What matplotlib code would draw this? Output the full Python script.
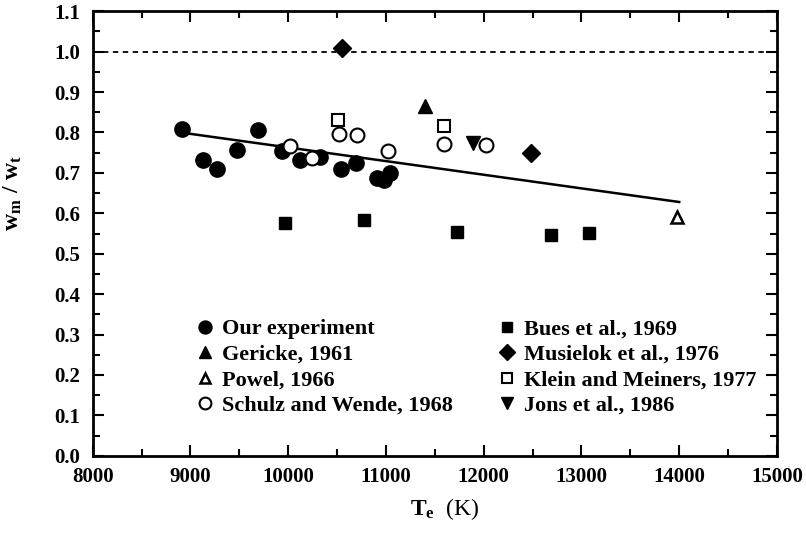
# w_m / w_t versus T_e
import matplotlib.pyplot as plt
from matplotlib.ticker import MultipleLocator

plt.rcParams['font.family'] = ['Liberation Serif', 'DejaVu Serif']
plt.rcParams['font.weight'] = 'bold'
plt.rcParams['mathtext.fontset'] = 'custom'
plt.rcParams['mathtext.rm'] = 'Liberation Serif'
plt.rcParams['mathtext.it'] = 'Liberation Serif'
plt.rcParams['mathtext.bf'] = 'Liberation Serif:bold'

# データ
our_T = [8910, 9130, 9270, 9475, 9695, 9935, 10120, 10330, 10540, 10695, 10910, 10975, 11045]
our_r = [0.808, 0.733, 0.710, 0.756, 0.806, 0.755, 0.732, 0.740, 0.709, 0.725, 0.687, 0.683, 0.699]

gericke_T = [11395]
gericke_r = [0.865]

powel_T = [13980]
powel_r = [0.592]

schulz_T = [10020, 10245, 10515, 10705, 11025, 11595, 12025]
schulz_r = [0.767, 0.736, 0.797, 0.795, 0.755, 0.771, 0.769]

bues_T = [9970, 10780, 11730, 12690, 13080]
bues_r = [0.577, 0.583, 0.554, 0.546, 0.551]

musielok_T = [10550, 12485]
musielok_r = [1.008, 0.750]

klein_T = [10505, 11595]
klein_r = [0.831, 0.816]

jons_T = [11890]
jons_r = [0.773]

fit_T = [8900, 14000]
fit_r = [0.800, 0.628]

fig = plt.figure(figsize=(8.06, 5.35), dpi=100)
ax = fig.add_axes([0.115, 0.148, 0.849, 0.831])

k = 'black'
ax.axhline(1.0, color=k, lw=1.3, ls=(0, (3, 2.5)))
ax.plot(fit_T, fit_r, color=k, lw=1.8)

h1, = ax.plot(our_T, our_r, 'o', color=k, ms=11, ls='none', label='Our experiment')
h5, = ax.plot(bues_T, bues_r, 's', color=k, ms=8.5, ls='none', label='Bues et al., 1969')
h2, = ax.plot(gericke_T, gericke_r, '^', color=k, ms=9.5, ls='none', label='Gericke, 1961')
h6, = ax.plot(musielok_T, musielok_r, 'D', color=k, ms=9, ls='none', label='Musielok et al., 1976')
h3, = ax.plot(powel_T, powel_r, '^', mfc='white', mec=k, mew=1.8, ms=8.5, ls='none', label='Powel, 1966')
h7, = ax.plot(klein_T, klein_r, 's', mfc='white', mec=k, mew=1.5, ms=8, ls='none', label='Klein and Meiners, 1977')
h4, = ax.plot(schulz_T, schulz_r, 'o', mfc='white', mec=k, mew=1.5, ms=10, ls='none', label='Schulz and Wende, 1968')
h8, = ax.plot(jons_T, jons_r, 'v', color=k, ms=9.5, ls='none', label='Jons et al., 1986')

handles = [h1, h2, h3, h4, h5, h6, h7, h8]
ax.legend(handles, [h.get_label() for h in handles],
          ncol=2, frameon=False, loc='lower left', bbox_to_anchor=(0.118, 0.045),
          prop={'size': 16, 'weight': 'bold'}, handletextpad=0.3,
          columnspacing=1.9, labelspacing=0.22, markerscale=0.85, handlelength=1.0)

ax.set_xlim(8000, 15000)
ax.set_ylim(0.0, 1.1)
ax.xaxis.set_major_locator(MultipleLocator(1000))
ax.xaxis.set_minor_locator(MultipleLocator(500))
ax.yaxis.set_major_locator(MultipleLocator(0.1))
ax.yaxis.set_minor_locator(MultipleLocator(0.05))
ax.yaxis.set_major_formatter(plt.FormatStrFormatter('%.1f'))

ax.tick_params(which='both', direction='in', top=True, right=True, width=1.5)
ax.tick_params(which='major', length=8, labelsize=15, pad=8)
ax.tick_params(which='minor', length=5)
ax.tick_params(axis='y', pad=9)
for s in ax.spines.values():
    s.set_linewidth(2)

ax.set_xlabel(r'$\mathrm{T_e}$  (K)', fontsize=17, fontweight='normal', labelpad=6)
ax.xaxis.set_label_coords(0.515, -0.09)
ax.set_ylabel(r'$\mathbf{w_m\ /\ w_t}$', fontsize=17, labelpad=12)
ax.yaxis.set_label_coords(-0.1, 0.59)

fig.savefig('out.png', dpi=100)
